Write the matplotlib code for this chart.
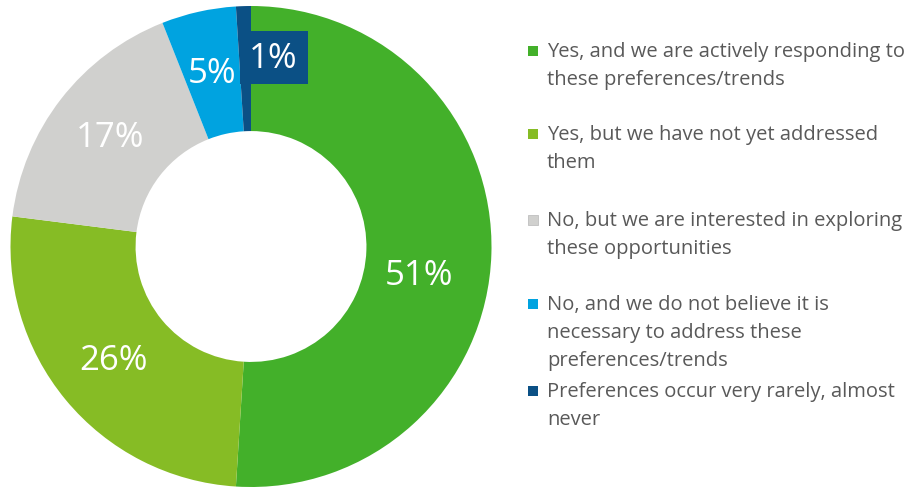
import matplotlib.pyplot as plt
from matplotlib.patches import Rectangle

plt.rcParams['font.family'] = ['Open Sans', 'DejaVu Sans']

labels = [
    "Yes, and we are actively responding to\nthese preferences/trends",
    "Yes, but we have not yet addressed\nthem",
    "No, but we are interested in exploring\nthese opportunities",
    "No, and we do not believe it is\nnecessary to address these\npreferences/trends",
    "Preferences occur very rarely, almost\nnever",
]
shares = [51, 26, 17, 5, 1]
colors = ["#43b02a", "#86bc25", "#d0d0ce", "#00a3e0", "#0b5085"]

W, H = 923, 489
fig = plt.figure(figsize=(W / 100, H / 100), dpi=100)

# donut: centre (251, 247.5) px, outer radius 240.5 px
cx, cy, r = 251, 247.5, 240.5
ax = fig.add_axes([(cx - r) / W, (H - cy - r) / H, 2 * r / W, 2 * r / H])
wedges, texts, pcts = ax.pie(
    shares, colors=colors, startangle=90, counterclock=False, radius=1,
    wedgeprops=dict(width=0.52, edgecolor="none"),
    autopct="%d%%", pctdistance=0.74,
    textprops=dict(color="white", fontsize=25),
)
ax.set_xlim(-1, 1)
ax.set_ylim(-1, 1)
ax.set_aspect("equal")
ax.axis("off")

# nudge the big label and the tiny slice label
pcts[0].set_position((0.70, -0.12))
pcts[4].set_position((0.094, 0.785))
pcts[4].set_bbox(dict(boxstyle="square,pad=0.28", facecolor=colors[4], edgecolor="none"))

# legend drawn by hand, one line at a time
line_h = 28
top_lines = [52, 135, 221, 305, 392]
for lab, col, y0 in zip(labels, colors, top_lines):
    fig.patches.append(Rectangle((528 / W, (H - y0 - 5) / H), 10 / W, 10 / H,
                                 transform=fig.transFigure, facecolor=col,
                                 edgecolor="#bfbfbf" if col == "#d0d0ce" else "none",
                                 linewidth=0.6))
    for i, line in enumerate(lab.split("\n")):
        fig.text(547 / W, (H - y0 - i * line_h) / H, line, fontsize=14.5,
                 color="#595959", ha="left", va="center")

fig.savefig("out.png", dpi=100, facecolor="white")
